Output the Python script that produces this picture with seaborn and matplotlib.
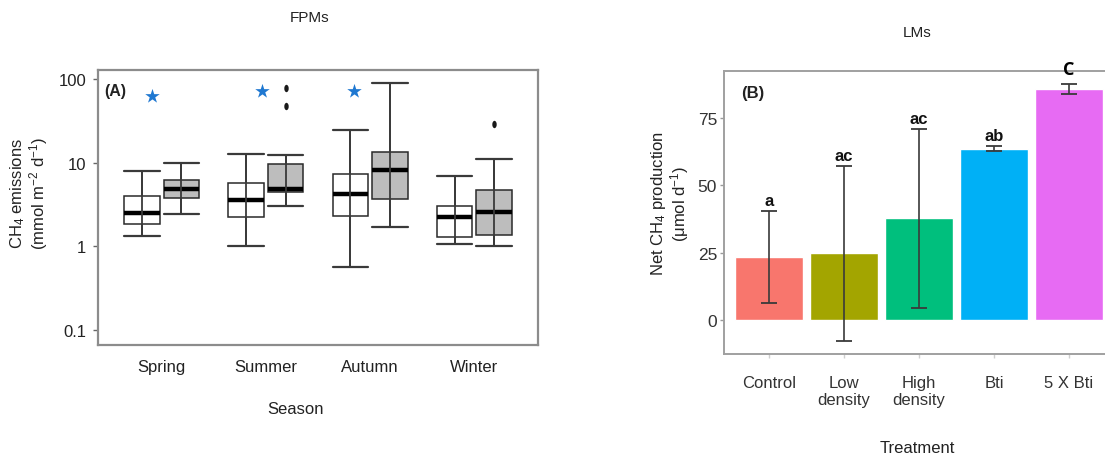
import numpy as np
import pandas as pd
import matplotlib
matplotlib.use("Agg")
import matplotlib.pyplot as plt
import seaborn as sns
from matplotlib.path import Path
from matplotlib.transforms import Affine2D
from matplotlib.ticker import FixedLocator, NullLocator

# ---------------- data: CH4 emissions per season (five-number summaries) ----
seasons = ["Spring", "Summer", "Autumn", "Winter"]
groups = ["open", "shaded"]

open_min = [1.32, 1.0, 0.57, 1.05]
open_q1 = [1.84, 2.23, 2.33, 1.28]
open_med = [2.49, 3.53, 4.17, 2.25]
open_q3 = [3.94, 5.7, 7.32, 3.02]
open_max = [7.87, 12.7, 24.4, 6.92]

shaded_min = [2.44, 3.07, 1.69, 1.0]
shaded_q1 = [3.8, 4.45, 3.63, 1.38]
shaded_med = [4.87, 4.78, 8.24, 2.56]
shaded_q3 = [6.13, 9.55, 13.4, 4.65]
shaded_max = [10.0, 12.2, 89.6, 10.9]

outlier_season = ["Summer", "Summer", "Winter"]
outlier_value = [78, 48, 28.6]

star_season = ["Spring", "Summer", "Autumn"]
star_value = [63, 71.5, 71.5]

# ---------------- data: net CH4 production per treatment -------------------
treatments = ["Control", "Low\ndensity", "High\ndensity", "Bti", "5 X Bti"]
production = [23.5, 24.7, 37.8, 63.6, 85.8]
production_err = [17.1, 32.5, 33.2, 1.0, 1.75]
letters = ["a", "ac", "ac", "ab", "C"]
bar_colors = ["#F8766D", "#A3A500", "#00BF7D", "#00B0F6", "#E76BF3"]

# ---------------- style ------------------------------------------------------
sns.set_theme(style="white")
plt.rcParams["font.family"] = ["Liberation Sans", "DejaVu Sans"]
plt.rcParams["mathtext.fontset"] = "custom"
plt.rcParams["mathtext.rm"] = "Liberation Sans"
plt.rcParams["mathtext.it"] = "Liberation Sans:italic"
plt.rcParams["mathtext.bf"] = "Liberation Sans:bold"
plt.rcParams["text.color"] = "#222222"
plt.rcParams["axes.labelcolor"] = "#222222"

W, H = 1105, 456
fig = plt.figure(figsize=(W / 100, H / 100), dpi=100)
ax1 = fig.add_axes([98 / W, 1 - 346 / H, 440 / W, 275 / H])
ax2 = fig.add_axes([724 / W, 1 - 355 / H, 381 / W, 283 / H])

# ---------------- panel A: seasonal box plots -------------------------------
records = []
summaries = {
    "open": (open_min, open_q1, open_med, open_q3, open_max),
    "shaded": (shaded_min, shaded_q1, shaded_med, shaded_q3, shaded_max),
}
for i, season in enumerate(seasons):
    for g in groups:
        for arr in summaries[g]:
            records.append({"season": season, "group": g, "value": arr[i]})
df = pd.DataFrame(records)

ax1.set_yscale("log")
box_width = 0.76
box_gap = 0.105
sns.boxplot(
    data=df, x="season", y="value", hue="group",
    order=seasons, hue_order=groups,
    palette={"open": "white", "shaded": "#bdbdbd"},
    width=box_width, gap=box_gap, whis=(0, 100),
    linecolor="#2a2a2a", linewidth=1.1, fliersize=0,
    saturation=1, legend=False, ax=ax1,
    capwidths=box_width / 2 * (1 - box_gap),
    medianprops=dict(color="black", linewidth=3.2),
    whiskerprops=dict(color="#3a3a3a", linewidth=1.3),
    capprops=dict(color="#3a3a3a", linewidth=1.6),
)

# whisker line drawn through each box
offset = box_width / 4
for k, g in enumerate(groups):
    mins, maxs = summaries[g][0], summaries[g][4]
    xs = np.arange(len(seasons)) + (offset if k else -offset)
    ax1.vlines(xs, mins, maxs, color="#3a3a3a", linewidth=1.3, zorder=4)

# outlying observations (shaded group)
ellipse = Path.unit_circle().transformed(Affine2D().scale(0.6, 1.0))
ox = [seasons.index(s) + offset for s in outlier_season]
ax1.scatter(ox, outlier_value, marker=ellipse, s=28, color="#1a1a1a", zorder=5,
            linewidths=0)

# significance stars
star_shift = [-0.09, -0.035, -0.155]
sx = [seasons.index(s) + d for s, d in zip(star_season, star_shift)]
ax1.scatter(sx, star_value, marker="*", s=120, color="#1f78d1", zorder=5,
            linewidths=0)

ax1.set_xlim(-0.61, 3.61)
ax1.set_ylim(0.066, 128)
ax1.yaxis.set_major_locator(FixedLocator([0.1, 1, 10, 100]))
ax1.yaxis.set_minor_locator(NullLocator())
ax1.set_yticklabels(["0.1", "1", "10", "100"])
ax1.tick_params(axis="y", which="major", length=3.5, width=1, color="#666666",
                pad=5, labelsize=12, labelcolor="#222222", left=True)
ax1.tick_params(axis="x", length=0, pad=10, labelsize=12, labelcolor="#222222")
for side in ["top", "right", "bottom", "left"]:
    ax1.spines[side].set_color("#8c8c8c")
    ax1.spines[side].set_linewidth(1.6)
    ax1.spines[side].set_visible(True)

ax1.set_xlabel("Season", fontsize=12)
ax1.xaxis.set_label_coords((296 - 98) / 440, -(402 - 346) / 275)
ax1.set_ylabel("CH$_4$ emissions\n(mmol m$^{-2}$ d$^{-1}$)", fontsize=12,
               linespacing=1.0)
ax1.yaxis.set_label_coords(-0.109, 0.553)
ax1.text(0.0136, 0.925, "(A)", transform=ax1.transAxes, fontsize=11.5,
         fontweight="bold", ha="left", va="center")

fig.text(310 / W, 1 - 18 / H, "FPMs", ha="center", va="center", fontsize=11)

# ---------------- panel B: net production bars ------------------------------
sns.barplot(x=treatments, y=production, hue=treatments, palette=bar_colors,
            width=0.9, saturation=1, legend=False, errorbar=None, ax=ax2)
xpos = np.arange(len(treatments))
ax2.errorbar(xpos, production, yerr=production_err, fmt="none",
             ecolor="#3a3a3a", elinewidth=1.2, capsize=6, capthick=1.3,
             zorder=4)
for i, lab in enumerate(letters):
    top = production[i] + production_err[i]
    if lab == "C":
        ax2.text(i, top + 2.4, lab, ha="center", va="bottom", fontsize=13,
                 fontweight="bold", family=["Open Sans", "DejaVu Sans"],
                 color="black", clip_on=False)
    else:
        ax2.text(i, top + 1.0, lab, ha="center", va="bottom", fontsize=12,
                 fontweight="bold", color="#111111")

ax2.set_xlim(-0.6, 4.48)
ax2.set_ylim(-12.6, 92.4)
ax2.set_yticks([0, 25, 50, 75])
ax2.set_yticklabels(["0", "25", "50", "75"])
ax2.tick_params(axis="y", length=3, width=1, color="#9a9a9a", pad=2,
                labelsize=12.5, labelcolor="#333333", left=True)
ax2.tick_params(axis="x", length=3, width=1, color="#cfcfcf", pad=12,
                labelsize=12, labelcolor="#333333", bottom=True)
for side in ["top", "left", "bottom"]:
    ax2.spines[side].set_color("#a0a0a0")
    ax2.spines[side].set_linewidth(1.4)
    ax2.spines[side].set_visible(True)
ax2.spines["right"].set_visible(False)

ax2.set_xlabel("Treatment", fontsize=12)
ax2.xaxis.set_label_coords(0.507, -0.304)
ax2.set_ylabel("Net CH$_4$ production\n(μmol d$^{-1}$)", fontsize=12,
               linespacing=1.0)
ax2.yaxis.set_label_coords(-0.087, 0.534)
ax2.text(0.046, 0.925, "(B)", transform=ax2.transAxes, fontsize=12,
         fontweight="bold", ha="left", va="center")

fig.text(917 / W, 1 - 33 / H, "LMs", ha="center", va="center", fontsize=11)

fig.savefig("out.png", dpi=100)
